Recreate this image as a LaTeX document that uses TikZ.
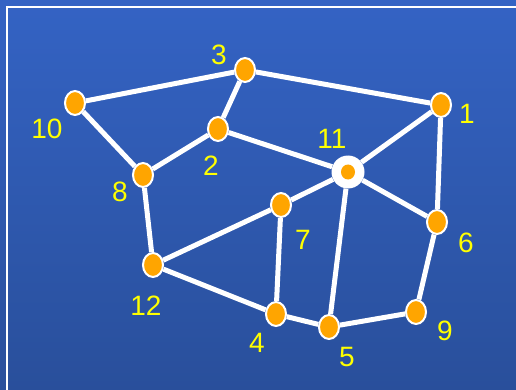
\documentclass[tikz,border=0pt]{standalone}
\usepackage{fontspec}
\setmainfont{Liberation Sans}
\usetikzlibrary{shapes.geometric}

\definecolor{bgtop}{RGB}{52,99,196}
\definecolor{bgbot}{RGB}{41,79,155}
\definecolor{vorange}{RGB}{255,165,0}
\definecolor{vyellow}{RGB}{255,255,0}

\begin{document}
\begin{tikzpicture}[
  x=1pt, y=-1pt,
  vtx/.style={ellipse, draw=white, line width=2pt, fill=vorange,
              minimum width=20pt, minimum height=24pt, inner sep=0pt},
  hub/.style={circle, fill=white, minimum size=33pt, inner sep=0pt},
  lab/.style={text=vyellow, font=\fontsize{28}{28}\selectfont, inner sep=0pt},
  edge/.style={draw=white, line width=5pt}
]
  \useasboundingbox (0,0) rectangle (516,390);
  \shade[top color=bgtop, bottom color=bgbot] (0,0) rectangle (516,390);
  \draw[white, line width=2pt] (7,391) -- (7,7) -- (517,7);

  % vertices
  \node[vtx] (v1)  at (441,105) {};
  \node[vtx] (v2)  at (218,129) {};
  \node[vtx] (v3)  at (245,70)  {};
  \node[vtx] (v4)  at (276,314) {};
  \node[vtx] (v5)  at (329,327) {};
  \node[vtx] (v6)  at (437,222) {};
  \node[vtx] (v7)  at (281,205) {};
  \node[vtx] (v8)  at (143,175) {};
  \node[vtx] (v9)  at (416,312) {};
  \node[vtx] (v10) at (75,103)  {};
  \node[hub] (v11) at (348,172) {};
  \node[vtx] (v12) at (153,265) {};

  % edges
  \path[edge] (v10) -- (v3);
  \path[edge] (v3)  -- (v1);
  \path[edge] (v3)  -- (v2);
  \path[edge] (v10) -- (v8);
  \path[edge] (v8)  -- (v2);
  \path[edge] (v2)  -- (v11);
  \path[edge] (v11) -- (v1);
  \path[edge] (v1)  -- (v6);
  \path[edge] (v11) -- (v6);
  \path[edge] (v11) -- (v7);
  \path[edge] (v11) -- (v5);
  \path[edge] (v8)  -- (v12);
  \path[edge] (v12) -- (v7);
  \path[edge] (v12) -- (v4);
  \path[edge] (v7)  -- (v4);
  \path[edge] (v4)  -- (v5);
  \path[edge] (v5)  -- (v9);
  \path[edge] (v9)  -- (v6);

  \node[ellipse, fill=vorange, minimum width=14pt, minimum height=15pt,
        inner sep=0pt] (c11) at (v11) {};

  % labels
  \node[lab] (l1)  at (467,114) {1};
  \node[lab] (l2)  at (211,166) {2};
  \node[lab] (l3)  at (219,55)  {3};
  \node[lab] (l4)  at (257,343) {4};
  \node[lab] (l5)  at (347,357) {5};
  \node[lab] (l6)  at (466,243) {6};
  \node[lab] (l7)  at (303,240) {7};
  \node[lab] (l8)  at (120,192) {8};
  \node[lab] (l9)  at (445,331) {9};
  \node[lab] (l10) at (47,129)  {10};
  \node[lab] (l11) at (332,139) {11};
  \node[lab] (l12) at (146,306) {12};
\end{tikzpicture}
\end{document}
